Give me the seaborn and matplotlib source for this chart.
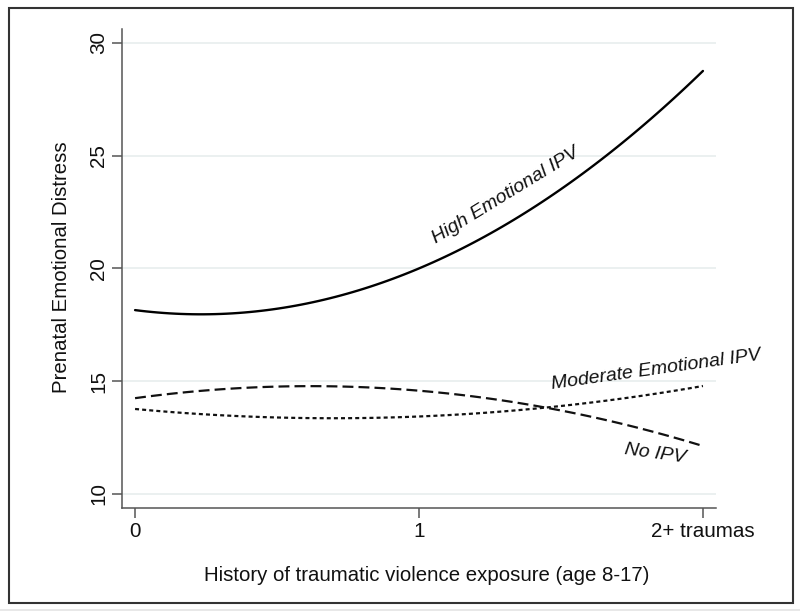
import matplotlib
matplotlib.use("Agg")
import matplotlib.pyplot as plt
import seaborn as sns
from matplotlib.patches import Rectangle
from matplotlib.lines import Line2D

# values
x_pos = [0, 0.25, 0.5, 0.75, 1, 1.25, 1.5, 1.75, 2]
high_ipv = [18.15, 17.97, 18.21, 18.89, 20.0, 21.54, 23.51, 25.92, 28.75]
no_ipv = [14.25, 14.59, 14.76, 14.76, 14.58, 14.23, 13.70, 13.00, 12.13]
moderate_ipv = [13.77, 13.53, 13.39, 13.36, 13.44, 13.62, 13.90, 14.29, 14.79]

x_ticks = [0, 1, 2]
x_tick_labels = ['0', '1', '2+ traumas']
y_ticks = [10, 15, 20, 25, 30]

sns.set_style("ticks")
plt.rcParams['font.family'] = ['Liberation Sans', 'DejaVu Sans']

fig = plt.figure(figsize=(8, 6.12), dpi=100)
ax = fig.add_axes([0.1525, 0.1699, 0.7425, 0.7827])

# light horizontal grid
for yv in y_ticks:
    ax.axhline(yv, color='#e9efef', lw=1.3, zorder=0)

# quadratic curves, fitted by seaborn through the read-off points
sns.regplot(x=x_pos, y=high_ipv, order=2, ci=None, scatter=False, truncate=True,
            color='black', line_kws=dict(lw=1.7, ls='-'), ax=ax)
sns.regplot(x=x_pos, y=no_ipv, order=2, ci=None, scatter=False, truncate=True,
            color='#111111', line_kws=dict(lw=1.6, ls=(0, (4.9, 2.3))), ax=ax)
sns.regplot(x=x_pos, y=moderate_ipv, order=2, ci=None, scatter=False, truncate=True,
            color='#111111', line_kws=dict(lw=1.6, ls=(0, (1.8, 1.4))), ax=ax)

ax.set_xlim(-0.046, 2.046)
ax.set_ylim(9.38, 30.61)
ax.set_xticks(x_ticks)
ax.set_xticklabels(x_tick_labels)
ax.set_yticks(y_ticks)

sns.despine(ax=ax)
for s in ['left', 'bottom']:
    ax.spines[s].set_color('#555555')
    ax.spines[s].set_linewidth(1.1)

ax.tick_params(axis='both', length=7, width=1.1, color='#555555',
               labelsize=14.9, labelcolor='#111111')
ax.tick_params(axis='x', pad=3.4)
ax.tick_params(axis='y', pad=3, labelrotation=90)
for lab in ax.get_yticklabels():
    lab.set_va('center')

ax.set_xlabel('History of traumatic violence exposure (age 8-17)', fontsize=14.7, color='#111111')
ax.set_ylabel('Prenatal Emotional Distress', fontsize=14.7, color='#111111')
ax.xaxis.set_label_coords(0.513, -0.120)
ax.xaxis.label.set_va('top')
ax.yaxis.set_label_coords(-0.086, 0.502)

# curve labels
ax.text(1.306, 23.23, 'High Emotional IPV', rotation=31.5, rotation_mode='anchor',
        ha='center', va='center', style='italic', fontsize=14, color='#111111')
ax.text(1.835, 15.49, 'Moderate Emotional IPV', rotation=8, rotation_mode='anchor',
        ha='center', va='center', style='italic', fontsize=14, color='#111111', clip_on=False)
ax.text(1.831, 11.77, 'No IPV', rotation=-8, rotation_mode='anchor',
        ha='center', va='center', style='italic', fontsize=14, color='#111111')

# outer frame around the whole graph
fig.add_artist(Rectangle((8.5 / 800, 1 - 603 / 612), (793 - 8.5) / 800, (603 - 7.5) / 612,
                         fill=False, lw=1.5, ec='#333333', transform=fig.transFigure))
fig.add_artist(Line2D([0, 1], [1 - 609.5 / 612] * 2, color='#e4e4e4', lw=1.2,
                      transform=fig.transFigure))

fig.savefig('out.png', dpi=100)
